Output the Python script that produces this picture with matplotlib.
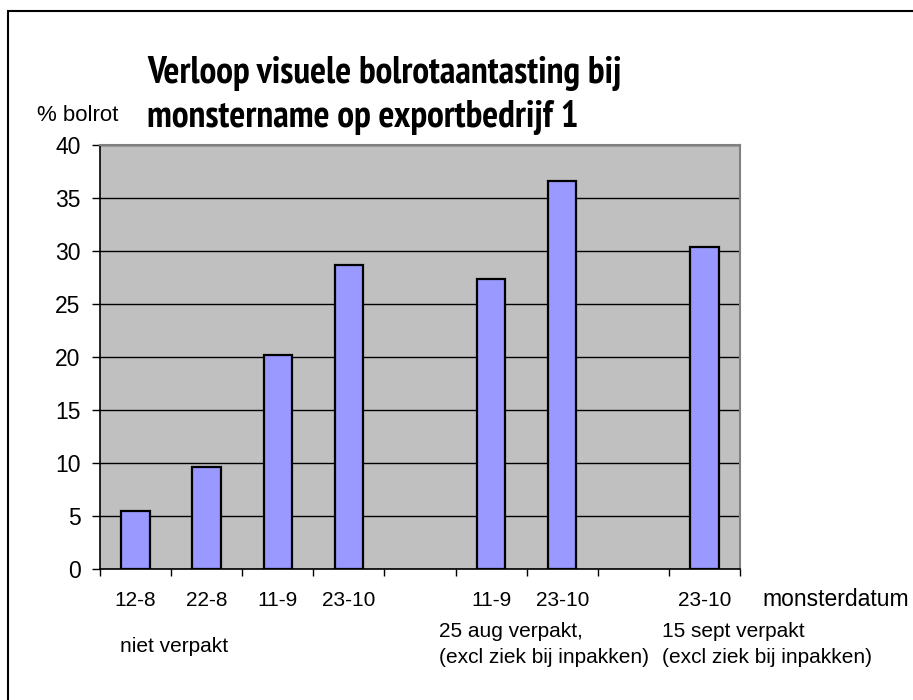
import numpy as np
from matplotlib import pyplot as plt
from matplotlib import font_manager
from matplotlib.patches import Rectangle

# gegevens (lege posities = ruimte tussen de groepen)
categories = ["12-8", "22-8", "11-9", "23-10", "", "11-9", "23-10", "", "23-10"]
bolrot = [5.5, 9.6, 20.2, 28.7, np.nan, 27.4, 36.6, np.nan, 30.4]
group_labels = ["niet verpakt",
                "25 aug verpakt,\n(excl ziek bij inpakken)",
                "15 sept verpakt\n(excl ziek bij inpakken)"]
title = "Verloop visuele bolrotaantasting bij\nmonstername op exportbedrijf 1"

W, H = 913, 700

plt.rcParams["font.family"] = ["Liberation Sans", "DejaVu Sans"]


def title_font():
    """zoek een smalle vette letter voor de titel, anders gewoon vet"""
    cands = []
    for f in font_manager.fontManager.ttflist:
        name = (f.fname + " " + f.name).lower()
        if f.weight not in ("bold", 700):
            continue
        if "oblique" in name or "italic" in name or "extra" in name or "ultra" in name:
            continue
        if "narrow" in name:
            rank = 0
        elif "semicondensed" in name or "semi condensed" in name:
            rank = 1
        elif "condensed" in name:
            rank = 2
        else:
            continue
        cands.append((rank, "sans" not in name, f.fname))
    if cands:
        cands.sort()
        return font_manager.FontProperties(fname=cands[0][2])
    return font_manager.FontProperties(family=["Liberation Sans", "DejaVu Sans"], weight="bold")


def px(x, y):
    """pixelcoordinaten (van linksboven) naar figuurcoordinaten"""
    return x / W, 1 - y / H


fig = plt.figure(figsize=(W / 100, H / 100), dpi=100)
ax = fig.add_axes([100 / W, 1 - 569 / H, 640 / W, 424 / H])
ax.set_facecolor("#C0C0C0")

x = np.arange(len(categories))
ax.bar(x, bolrot, width=0.4, color="#9999FF", edgecolor="black", linewidth=1.6, zorder=3)

ax.set_xlim(-0.5, len(categories) - 0.5)
ax.set_ylim(0, 40)
ax.set_yticks(range(0, 41, 5))
ax.grid(axis="y", color="black", linewidth=1.0, zorder=1)

ax.set_xticks(x)
ax.set_xticklabels(categories, fontsize=15)
ax.set_xticks(np.arange(-0.5, len(categories), 1), minor=True)
ax.tick_params(axis="x", which="major", length=0, pad=16)
ax.tick_params(axis="x", which="minor", length=5, width=1, direction="out")
ax.tick_params(axis="y", labelsize=16.5, length=6, width=1, pad=8)

for side in ["top", "right"]:
    ax.spines[side].set_color("#808080")
    ax.spines[side].set_linewidth(1.5)
for side in ["left", "bottom"]:
    ax.spines[side].set_color("black")
    ax.spines[side].set_linewidth(1.2)

# titel, passend gemaakt op de breedte van de eerste regel
tprop = title_font()
tprop.set_size(22)
t = fig.text(*px(147, 83), title.split("\n")[0], fontproperties=tprop,
             ha="left", va="baseline")
fig.canvas.draw()
w = t.get_window_extent().width
tprop.set_size(min(27, 22 * 522 / w))
t.set_fontproperties(tprop)
fig.text(*px(147, 127), title.split("\n")[1], fontproperties=tprop,
         ha="left", va="baseline")

fig.text(*px(37, 121), "% bolrot", fontsize=16, ha="left", va="baseline")
fig.text(*px(762, 606), "monsterdatum", fontsize=16.5, ha="left", va="baseline")

fig.text(*px(120, 652), group_labels[0], fontsize=15, ha="left", va="baseline")
for gx, lab in zip([439, 662], group_labels[1:]):
    l1, l2 = lab.split("\n")
    fig.text(*px(gx, 637), l1, fontsize=15, ha="left", va="baseline")
    fig.text(*px(gx, 663), l2, fontsize=15, ha="left", va="baseline")

# kader rond de grafiek
fig.add_artist(Rectangle(px(8, 760), 2, (760 - 11) / H, transform=fig.transFigure,
                         fill=False, edgecolor="black", linewidth=1.5))

fig.savefig("out.png", dpi=100)
